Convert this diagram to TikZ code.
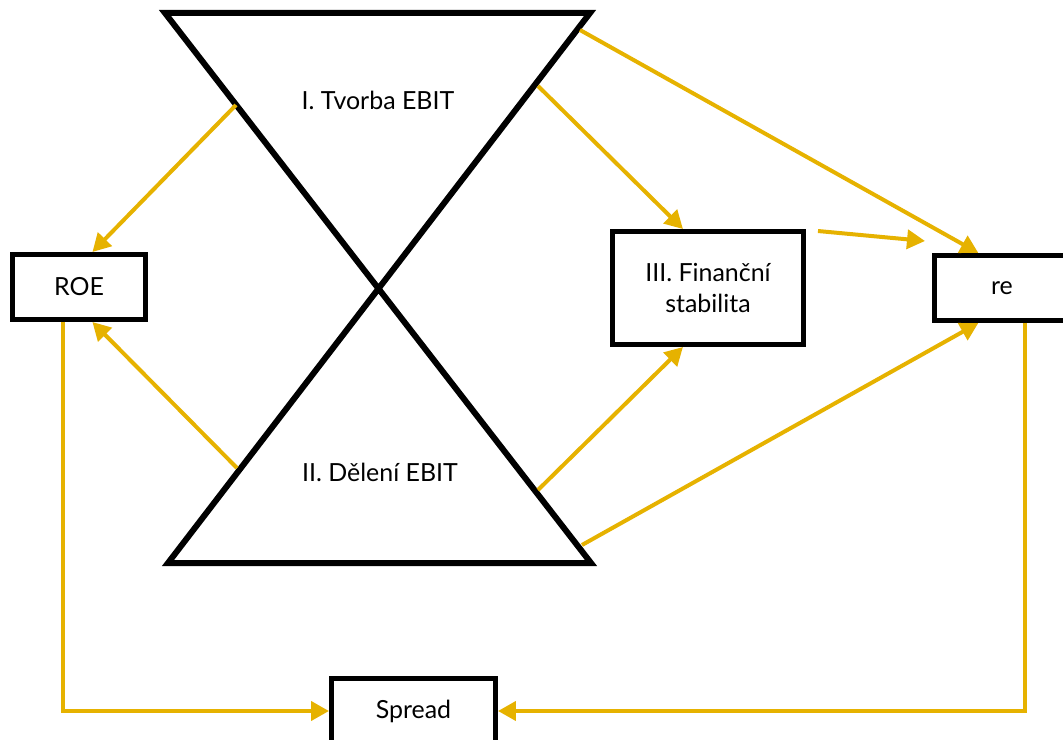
\documentclass[tikz,border=0pt]{standalone}
\usepackage{fontspec}
\setmainfont{Lato}
\usetikzlibrary{arrows.meta}
\definecolor{gold}{RGB}{230,178,0}
\tikzset{
  label text/.style={font=\fontsize{14.2}{18}\selectfont},
  box/.style={draw=black,line width=0.1cm,fill=white,align=center,inner sep=0pt,minimum height=1.3cm,label text},
  link/.style={gold,line width=0.08cm,-{Triangle[length=0.36cm,width=0.38cm]}}
}
\begin{document}
\begin{tikzpicture}[x=0.02cm,y=-0.02cm]
\clip (0,0) rectangle (1063,740);
\useasboundingbox (0,0) rectangle (1063,740);
% hourglass
\draw [line width=0.12cm, miter limit=20] (165,13) -- (590,13) -- (168,563) -- (591,563) -- cycle;
\node [label text] (tvorba) at (378,100) {I. Tvorba EBIT};
\node [label text] (deleni) at (380,472) {II. Dělení EBIT};
\coordinate (tl) at (236,105);
\coordinate (tr) at (538,86);
\coordinate (tt) at (580,30);
\coordinate (bl) at (237,468);
\coordinate (br) at (538,490);
\coordinate (bb) at (582,545);
% boxes
\node [box,minimum width=2.66cm] (ROE) at (79,287) {ROE};
\node [box,minimum width=3.82cm,minimum height=2.26cm] (fin) at (708,288) {III. Finanční\\stabilita};
\node [box,minimum width=2.7cm] (re) at (1002,288) {re};
\node [box,minimum width=3.28cm] (spread) at (413.5,711) {Spread};
% arrows
\draw [link] (tl) -- (ROE.69);
\draw [link] (bl) -- (ROE.-69);
\draw [link] (tr) -- (fin.113);
\draw [link] (br) -- (fin.-113);
\draw [link] (tt) -- (re.124);
\draw [link] (bb) -- (re.-124);
\draw [link] ([shift={(12,2)}]fin.north east) -- ([shift={(-7,-12)}]re.north west);
\draw [link] ([shift={(-16,0)}]ROE.south) |- (spread.west);
\draw [link] ([shift={(23,0)}]re.south) |- (spread.east);
\end{tikzpicture}
\end{document}
